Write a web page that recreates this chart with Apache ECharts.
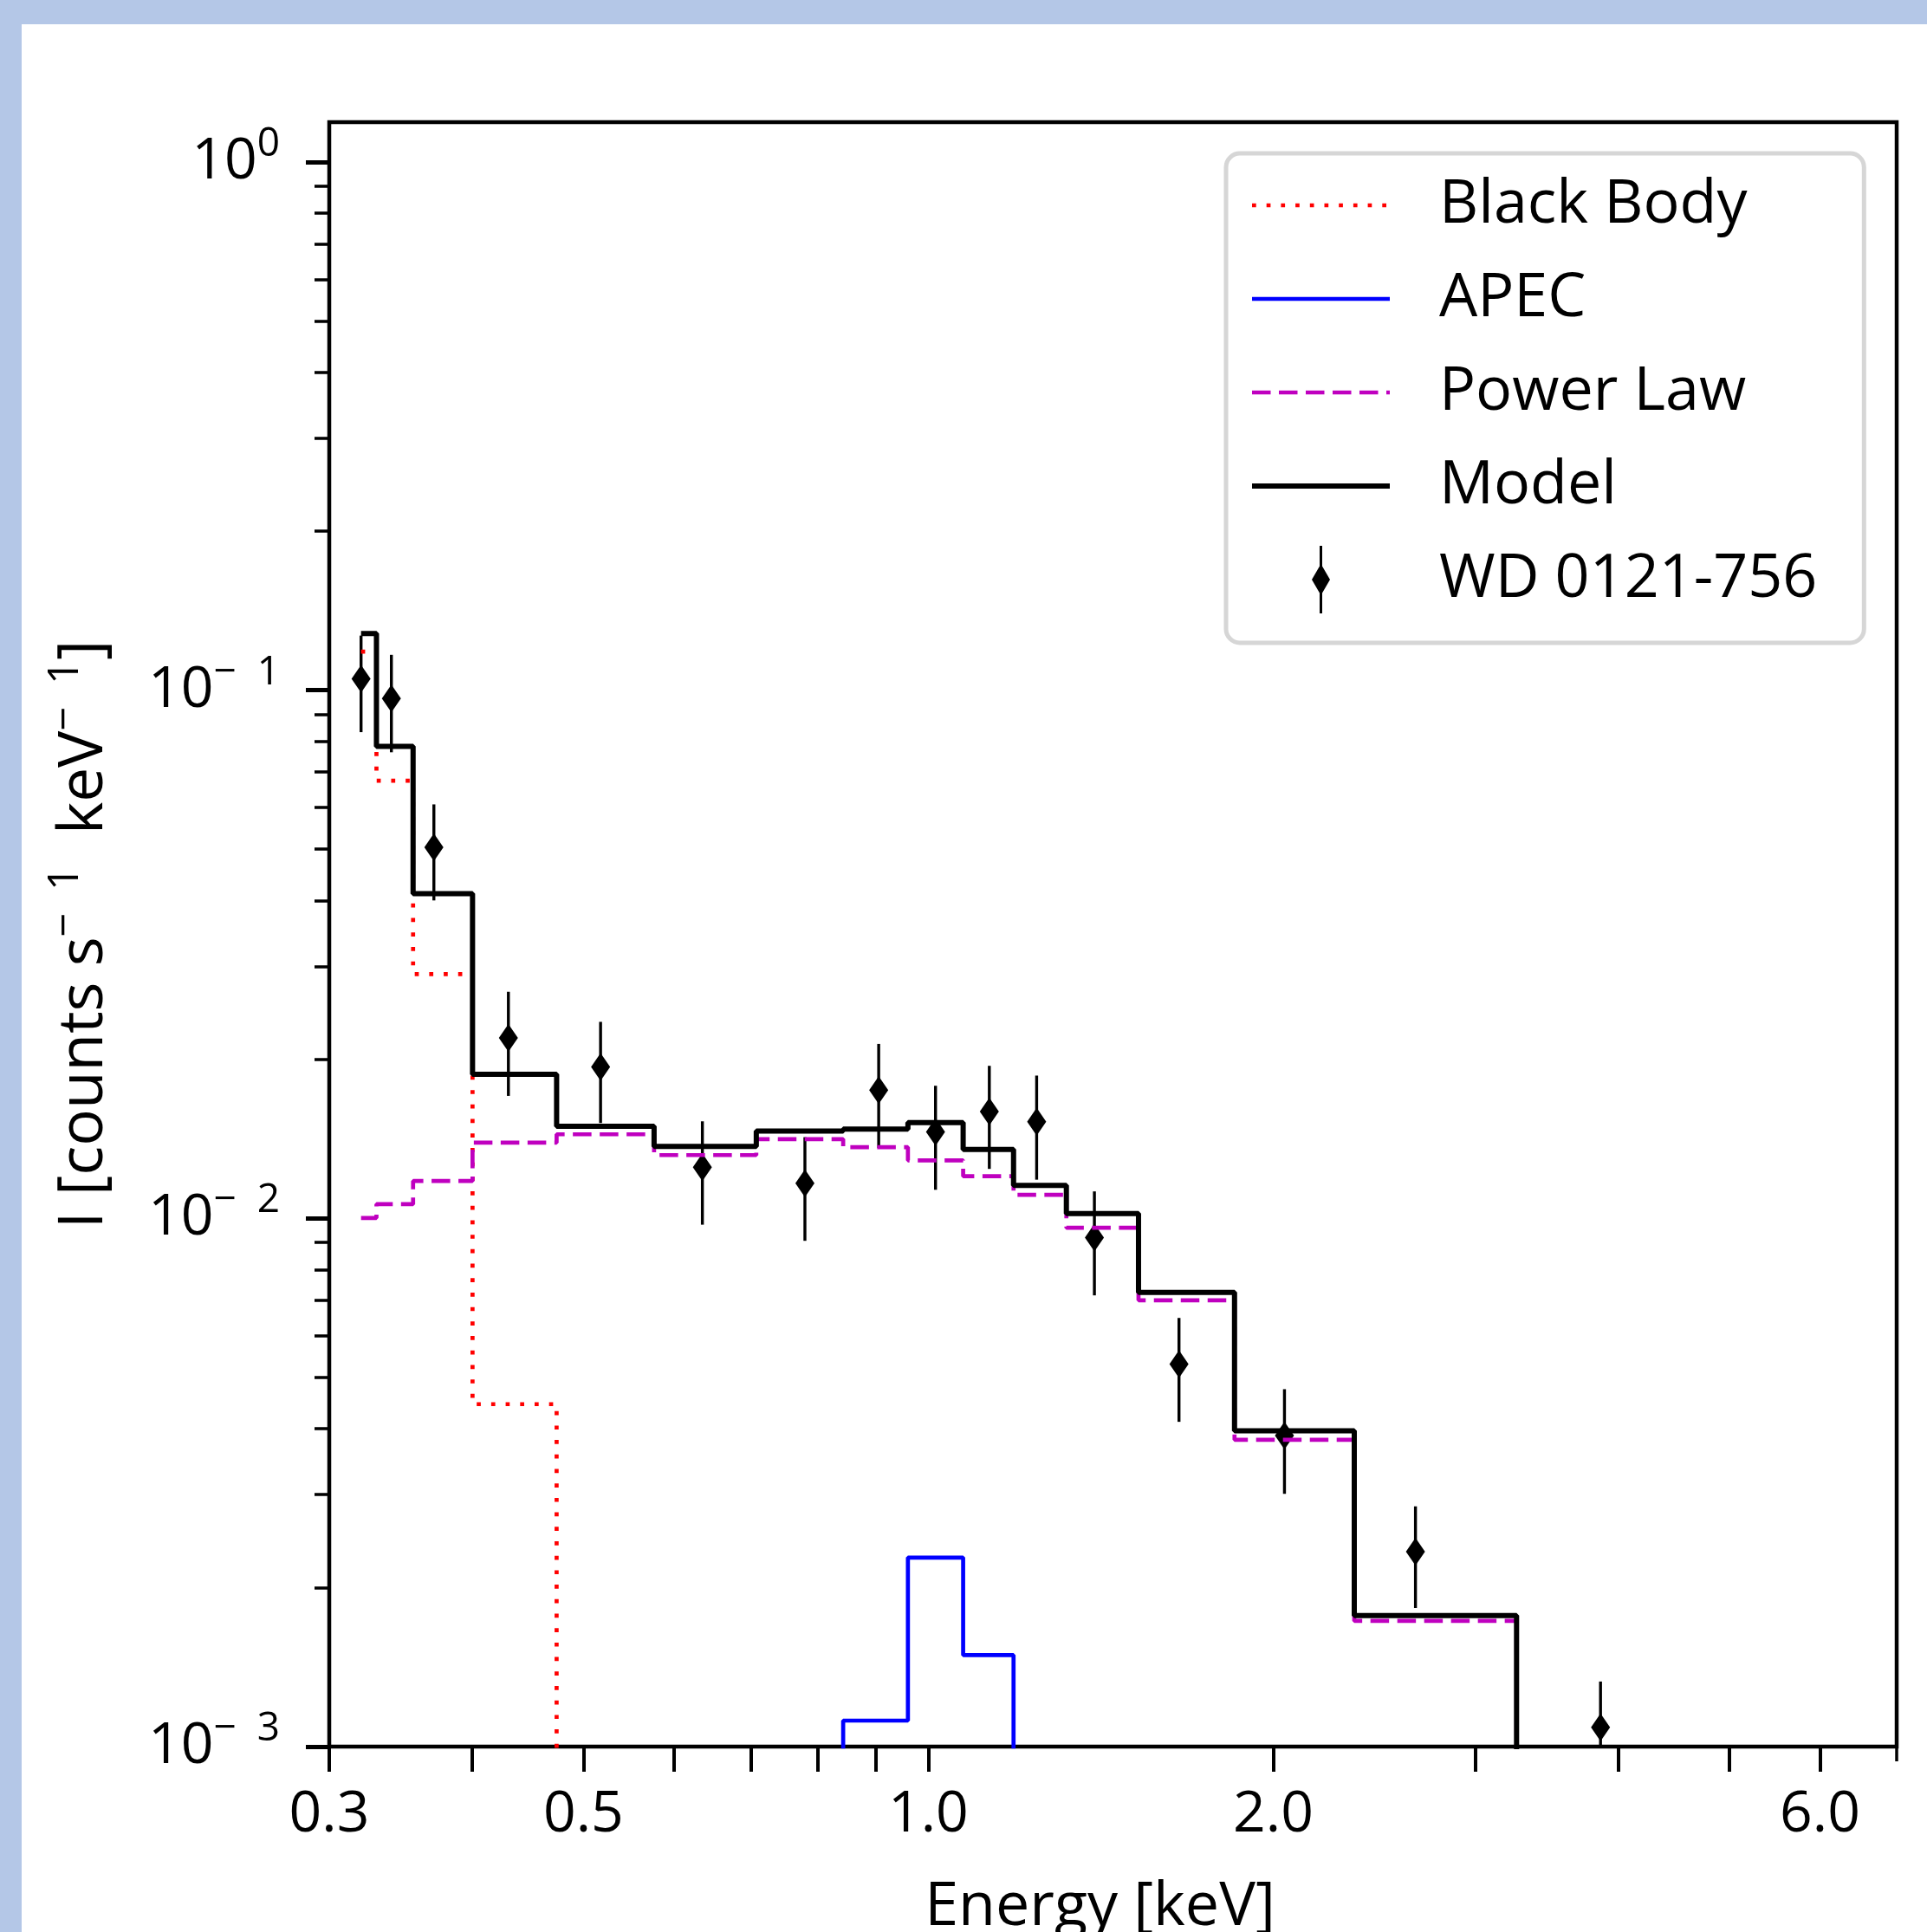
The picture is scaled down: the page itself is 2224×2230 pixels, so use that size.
<!DOCTYPE html>
<html>
<head>
<meta charset="utf-8">
<title>WD 0121-756 spectrum</title>
<script src="https://cdn.jsdelivr.net/npm/echarts@6/dist/echarts.min.js"></script>
<style>
  html, body { margin: 0; padding: 0; background: #b4c7e7; }
  #paper { position: absolute; left: 25px; top: 28px; width: 2199px; height: 2202px; background: #fff; }
  #chart { position: absolute; left: 0; top: 0; width: 2224px; height: 2230px; }
</style>
</head>
<body>
<div id="paper"></div>
<div id="chart"></div>
<script>
// bin centres [keV]
const energy = [0.3198, 0.3399, 0.3702, 0.4300, 0.5175, 0.6350, 0.7803, 0.9050,
  1.0145, 1.1303, 1.2431, 1.3961, 1.6548, 2.0455, 2.6615, 3.8604]
// WD 0121-756 rate and 1-sigma error [counts s^-1 keV^-1]
const rate = [0.1051, 0.0965, 0.0504, 0.02196, 0.01936, 0.01250, 0.01166, 0.01750,
  0.01458, 0.01593, 0.01524, 0.00920, 0.00530, 0.00388, 0.00234, 0.001088]
const rateErr = [0.0218, 0.0202, 0.0104, 0.0049, 0.0042, 0.00277, 0.00259, 0.0039,
  0.00325, 0.00352, 0.0034, 0.00205, 0.00118, 0.00087, 0.00051, 0.00024]
// model components per bin (null = not plotted, values < 1e-3 fall below the axis)
const model = [0.1281, 0.0783, 0.04121, 0.01875, 0.01495, 0.01369, 0.01463, 0.01476,
  0.01519, 0.01351, 0.01155, 0.01021, 0.00724, 0.00396, 0.00177, 0.0006]
const powerLaw = [0.01002, 0.01064, 0.01177, 0.01391, 0.01443, 0.01318, 0.01413, 0.01364,
  0.01288, 0.01202, 0.01108, 0.00960, 0.00700, 0.00381, 0.00173, 0.0006]
const blackBody = [0.1183, 0.0674, 0.0290, 0.00445, 0.0002, null, null, null,
  null, null, null, null, null, null, null, null]
const apec = [null, null, null, null, null, null, 0.0005, 0.00112,
  0.00228, 0.00149, 0.0005, null, null, null, null, null]

// axes
const xRange = [0.3, 7]
const yRange = [0.001, 1.19]
const xTicks = [0.3, 0.4, 0.5, 0.6, 0.7, 0.8, 0.9, 1, 2, 3, 4, 5, 6]
const xTickLabels = [0.3, 0.5, 1, 2, 6]
const xMinorTicks = [7]
const yMajorTicks = [0.001, 0.01, 0.1, 1]
const yMinorTicks = [
  0.002, 0.003, 0.004, 0.005, 0.006, 0.007, 0.008, 0.009,
  0.02, 0.03, 0.04, 0.05, 0.06, 0.07, 0.08, 0.09,
  0.2, 0.3, 0.4, 0.5, 0.6, 0.7, 0.8, 0.9
]

const FONT = "'Open Sans', 'Noto Sans', sans-serif"
const lg = Math.log10

// matplotlib 'steps-mid': edges at the (linear) midpoint between bin centres
function stepsMid(values) {
  const idx = []
  values.forEach((v, i) => { if (v != null) idx.push(i) })
  const pts = []
  idx.forEach((i, k) => {
    const left = k === 0 ? energy[i] : (energy[i - 1] + energy[i]) / 2
    const right = k === idx.length - 1 ? energy[i] : (energy[i] + energy[i + 1]) / 2
    pts.push([lg(left), lg(values[i])], [lg(right), lg(values[i])])
  })
  return pts
}

const errData = energy.map((e, i) => [lg(e), lg(rate[i]), lg(rate[i] - rateErr[i]), lg(rate[i] + rateErr[i])])

const tickRich = {
  b: { fontSize: 66, lineHeight: 86, fontFamily: FONT, color: '#000' },
  s: { fontSize: 46, lineHeight: 46, verticalAlign: 'top', fontFamily: FONT, color: '#000' }
}
const nameRich = {
  b: { fontSize: 71, lineHeight: 92, fontFamily: FONT, color: '#000' },
  s: { fontSize: 49, lineHeight: 49, verticalAlign: 'top', fontFamily: FONT, color: '#000' }
}

function stepLine(name, values, color, width, type) {
  return {
    name: name,
    type: 'line',
    data: stepsMid(values),
    showSymbol: false,
    symbol: 'none',
    clip: true,
    lineStyle: { color: color, width: width, type: type },
    itemStyle: { color: color },
    emphasis: { disabled: true }
  }
}

// hide the marker circle ECharts puts on line legend icons
const noMarker = { opacity: 0 }

const chart = echarts.init(document.getElementById('chart'))
chart.setOption({
  backgroundColor: 'transparent',
  animation: false,
  grid: {
    left: 380, top: 141, width: 1809, height: 1875,
    show: true, borderColor: '#000', borderWidth: 4.5, backgroundColor: 'transparent',
    containLabel: false, outerBoundsMode: 'none'
  },
  legend: {
    orient: 'vertical',
    left: 1415,
    top: 177,
    itemWidth: 159,
    itemHeight: 78,
    itemGap: 30,
    padding: [21, 54, 34, 27],
    borderColor: '#d6d6d6',
    borderWidth: 5,
    borderRadius: 16,
    backgroundColor: 'rgba(255,255,255,0.8)',
    selectedMode: false,
    lineStyle: { width: 'inherit' },
    textStyle: { fontSize: 70, lineHeight: 64, fontFamily: FONT, color: '#000', padding: [14, 0, 0, 52] },
    data: [
      { name: 'Black Body', itemStyle: noMarker },
      { name: 'APEC', itemStyle: noMarker },
      { name: 'Power Law', itemStyle: noMarker },
      { name: 'Model', itemStyle: noMarker },
      { name: 'WD 0121-756', icon: 'path://M9,0H12V23.5L21,39L12,54.5V78H9V54.5L0,39L9,23.5Z' }
    ]
  },
  xAxis: [
    {
      type: 'value',
      position: 'bottom',
      min: lg(xRange[0]),
      max: lg(xRange[1]),
      axisLine: { show: false, onZero: false },
      splitLine: { show: false },
      axisTick: { show: true, length: 29, lineStyle: { color: '#000', width: 4 }, customValues: xTicks.map(lg) },
      axisLabel: {
        customValues: xTickLabels.map(lg),
        formatter: v => Math.pow(10, v).toFixed(1),
        margin: 46, fontSize: 66, fontFamily: FONT, color: '#000'
      },
      name: 'Energy [keV]',
      nameLocation: 'middle',
      nameGap: 151,
      nameTextStyle: { fontSize: 70, fontFamily: FONT, color: '#000', padding: [0, 30, 0, 0] }
    },
    {
      type: 'value',
      position: 'bottom',
      min: lg(xRange[0]),
      max: lg(xRange[1]),
      axisLine: { show: false, onZero: false },
      splitLine: { show: false },
      axisTick: { show: true, length: 17, lineStyle: { color: '#000', width: 3.5 }, customValues: xMinorTicks.map(lg) },
      axisLabel: { show: false }
    }
  ],
  yAxis: [
    {
      type: 'value',
      position: 'left',
      min: lg(yRange[0]),
      max: lg(yRange[1]),
      axisLine: { show: false, onZero: false },
      splitLine: { show: false },
      axisTick: { show: true, length: 27, lineStyle: { color: '#000', width: 5 }, customValues: yMajorTicks.map(lg) },
      axisLabel: {
        customValues: yMajorTicks.map(lg),
        margin: 57,
        formatter: v => {
          const e = Math.round(v)
          return e === 0 ? '{b|10}{s|0}' : '{b|10}{s|\u2212  ' + (-e) + '}'
        },
        rich: tickRich
      },
      name: '{b|I [counts s}{s|\u2212  1}{b|  keV}{s|\u2212  1}{b|]}',
      nameLocation: 'middle',
      nameGap: 236,
      nameTextStyle: { rich: nameRich }
    },
    {
      type: 'value',
      position: 'left',
      min: lg(yRange[0]),
      max: lg(yRange[1]),
      axisLine: { show: false, onZero: false },
      splitLine: { show: false },
      axisTick: { show: true, length: 17, lineStyle: { color: '#000', width: 3.5 }, customValues: yMinorTicks.map(lg) },
      axisLabel: { show: false }
    }
  ],
  series: [
    stepLine('Black Body', blackBody, '#ff0000', 4.7, [4.7, 12]),
    stepLine('APEC', apec, '#0000ff', 4.7, 'solid'),
    stepLine('Power Law', powerLaw, '#bf00bf', 4.7, [21.5, 9.5]),
    stepLine('Model', model, '#000000', 6, 'solid'),
    {
      name: 'WD 0121-756',
      type: 'custom',
      data: errData,
      encode: { x: 0, y: [1, 2, 3] },
      clip: true,
      itemStyle: { color: '#000' },
      renderItem: function (params, api) {
        const c = api.coord([api.value(0), api.value(1)])
        const lo = api.coord([api.value(0), api.value(2)])
        const hi = api.coord([api.value(0), api.value(3)])
        return {
          type: 'group',
          children: [
            { type: 'line', shape: { x1: c[0], y1: hi[1], x2: c[0], y2: lo[1] }, style: { stroke: '#000', lineWidth: 3.4 } },
            {
              type: 'polygon',
              shape: { points: [[c[0], c[1] - 16], [c[0] + 11, c[1]], [c[0], c[1] + 16], [c[0] - 11, c[1]]] },
              style: { fill: '#000' }
            }
          ]
        }
      }
    }
  ]
})
</script>
</body>
</html>
